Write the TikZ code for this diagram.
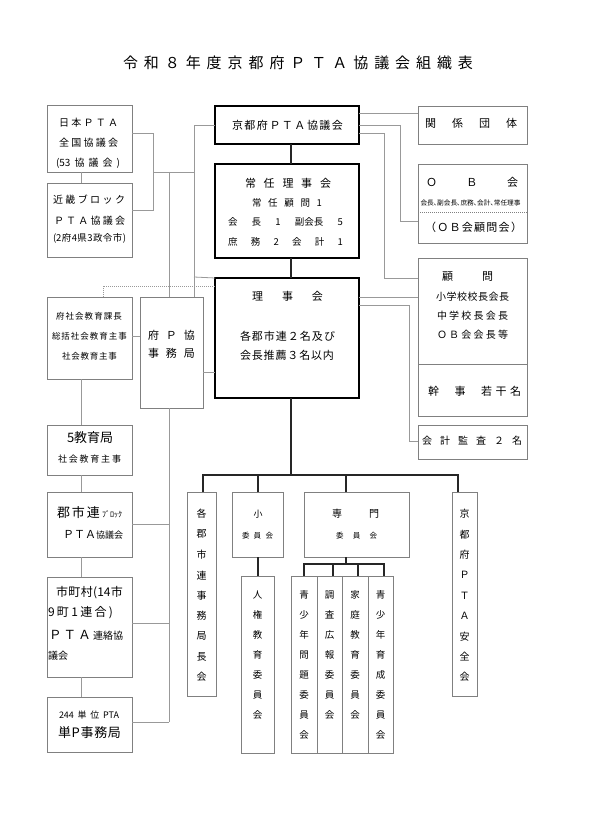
\documentclass[tikz,border=0pt]{standalone}
\usepackage{fontspec}
\setmainfont{Noto Sans CJK JP}
\usepackage{graphicx}
\usetikzlibrary{calc}
\ExplSyntaxOn
\NewDocumentCommand\spr{m m}{\hbox~to~#1{\tl_map_inline:nn{#2}{##1\hfil}\unskip}}
\ExplSyntaxOff
\definecolor{boxgray}{gray}{0.5}
\definecolor{linegray}{gray}{0.6}
\tikzset{
  gb/.style={draw=boxgray,line width=0.8pt,inner sep=0pt,outer sep=0pt},
  kb/.style={draw=black,line width=1.3pt,inner sep=0pt,outer sep=0pt},
  gl/.style={draw=linegray,line width=0.8pt},
  kl/.style={draw=black!85,line width=1.2pt},
  tx/.style={inner sep=0pt,outer sep=0pt,text=black},
}
\newcommand\mybox[6]{\node[#6,minimum width={#4-#2},minimum height={#5-#3}] (#1) at ({(#2+#4)/2},{(#3+#5)/2}) {};}
\newcommand\tline[6]{\node[tx,font=\fontsize{#5}{#5}\selectfont] (#1) at ({(#2+#3)/2},#4) {\spr{\dimexpr #3pt-#2pt\relax}{#6}};}
\newcommand\tnat[5]{\node[tx,anchor=west,font=\fontsize{#4}{#4}\selectfont] (#1) at (#2,#3) {#5};}
\newcommand\vtext[6]{\foreach \c [count=\i] in {#6} {\node[tx,font=\fontsize{#5}{#5}\selectfont] (#1-\i) at (#2,{#3+(\i-1)*#4}) {\c};}}
\begin{document}
\begin{tikzpicture}[x=1pt,y=-1pt]
\useasboundingbox (0,0) rectangle (590,834);
\fill[white] (0,0) rectangle (590,834);
% title
\tline{title}{123}{473}{63}{15}{令和８年度京都府ＰＴＡ協議会組織表}
% boxes
\mybox{nihon}{47}{105}{132}{172}{gb}
\mybox{kinki}{47}{183}{132}{257}{gb}
\mybox{kyoto}{215}{106}{359}{144}{kb}
\mybox{joning}{215}{164}{359}{258}{kb}
\mybox{riji}{215}{278}{359}{398}{kb}
\mybox{kankei}{418}{106}{527}{144}{gb}
\mybox{ob}{418}{164}{527}{243}{gb}
\mybox{komon}{418}{258}{527}{416}{gb}
\mybox{kansa}{418}{425}{527}{459}{gb}
\mybox{fushakai}{47}{297}{132}{379}{gb}
\mybox{fuP}{140}{297}{203}{408}{gb}
\mybox{kyoiku5}{47}{425}{132}{475}{gb}
\mybox{gunshi}{47}{492}{132}{557}{gb}
\mybox{shicho}{47}{577}{132}{677}{gb}
\mybox{tani}{47}{697}{132}{752}{gb}
\mybox{kakugun}{187}{492}{216}{696}{gb}
\mybox{sho}{232}{492}{283}{557}{gb}
\mybox{senmon}{304}{492}{409}{557}{gb}
\mybox{anzen}{452}{492}{477}{696}{gb}
\mybox{jinken}{241}{576}{274}{753}{gb}
\mybox{s1}{291}{576}{317}{753}{gb}
\mybox{s2}{317}{576}{342}{753}{gb}
\mybox{s3}{342}{576}{368}{753}{gb}
\mybox{s4}{368}{576}{393}{753}{gb}
% dividers
\draw[gb] (komon.west |- 0,364) -- (komon.east |- 0,364);
\draw[gb,dash pattern=on 0.8pt off 1.2pt] (ob.west |- 0,212) -- (ob.east |- 0,212);
% coordinates
\coordinate (jA) at (153,172);
\coordinate (jB) at (194,125);
\coordinate (jC) at (169,172);
\coordinate (jD) at (194,277);
\coordinate (jE) at (103,286);
\coordinate (bar) at (291,475);
\coordinate (bar2) at (346,564);
% gray connectors left
\draw[gl] (nihon.south -| 81,0) -- (kinki.north -| 81,0);
\draw[gl] (nihon.east |- 0,133) -- (153,133) -- (153,210) -- (kinki.east |- 0,210);
\draw[gl] (jA) -- (jB |- jA);
\draw[gl] (kyoto.west |- jB) -- (jB) -- (fuP.north -| jB);
\draw[gl] (jC) -- (fuP.north -| jC);
\draw[gl] (jD) -- (riji.north west);
\draw[gl,dash pattern=on 0.8pt off 1.2pt] (fushakai.north -| jE) -- (jE) -- (riji.west |- jE);
\draw[gl] (fushakai.east |- 0,336) -- (fuP.west |- 0,336);
\draw[gl] (fuP.east |- 0,372) -- (riji.west |- 0,372);
\draw[gl] (fushakai.south -| 81,0) -- (kyoiku5.north -| 81,0);
\draw[gl] (kyoiku5.south -| 81,0) -- (gunshi.north -| 81,0);
\draw[gl] (gunshi.south -| 81,0) -- (shicho.north -| 81,0);
\draw[gl] (shicho.south -| 81,0) -- (tani.north -| 81,0);
\draw[gl] (fuP.south -| jC) -- (jC |- 0,722);
\draw[gl] (gunshi.east |- 0,524) -- (jC |- 0,524);
\draw[gl] (shicho.east |- 0,623) -- (jC |- 0,623);
\draw[gl] (tani.east |- 0,722) -- (jC |- 0,722);
% gray connectors right
\draw[gl] (kyoto.east |- 0,113) -- (kankei.west |- 0,113);
\draw[gl] (kyoto.east |- 0,125) -| (400,221) -- (ob.west |- 0,221);
\draw[gl] (kyoto.east |- 0,133) -| (384,278) -- (komon.west |- 0,278);
\draw[gl] (riji.east |- 0,297) -- (komon.west |- 0,297);
\draw[gl] (riji.east |- 0,305) -| (409,441) -- (kansa.west |- 0,441);
% black connectors
\draw[kl] (kyoto.south -| bar) -- (joning.north -| bar);
\draw[kl] (joning.south -| bar) -- (riji.north -| bar);
\draw[kl] (riji.south -| bar) -- (bar);
\draw[kl] (kakugun.north -| 203,0) -- (203,475) -- (458,475) -- (anzen.north -| 458,0);
\draw[kl] (sho.north -| 258,0) -- (258,475);
\draw[kl] (senmon.north -| bar2) -- (bar2 |- bar);
\draw[kl] (sho.south -| 258,0) -- (jinken.north -| 258,0);
\draw[kl] (senmon.south -| bar2) -- (bar2);
\draw[kl] (s1.north -| 304,0) -- (304,564) -- (384,564) -- (s4.north -| 384,0);
\draw[kl] (s2.north -| 333,0) -- (333,564);
\draw[kl] (s3.north -| 358,0) -- (358,564);
% texts
\tline{n1}{59}{118}{123}{10}{日本ＰＴＡ}
\tline{n2}{59}{118}{143}{10}{全国協議会}
\tline{n3}{56}{120}{163}{10}{{(53}協議会{)}}
\tline{k1}{53}{125}{200}{10}{近畿ブロック}
\tline{k2}{54}{125}{221}{10}{ＰＴＡ協議会}
\tline{k3}{53}{126}{238}{9.5}{{(2}府{4}県{3}政令市{)}}
\tline{ky1}{232}{343}{125}{11}{京都府ＰＴＡ協議会}
\tline{ka1}{425}{517}{123}{11}{関係団体}
\tline{j1}{245}{331}{183}{11}{常任理事会}
\tline{j2}{252}{322}{203}{9.5}{常任顧問1}
\tline{j3}{228}{343}{222}{9.5}{会長1{副会長}5}
\tline{j4}{228}{343}{242}{9.5}{庶務2会計1}
\tline{r1}{252}{323}{296}{11}{理事会}
\tline{r2}{240}{335}{336}{11}{各郡市連２名及び}
\tline{r3}{240}{334}{355}{11}{会長推薦３名以内}
\tline{o1}{426}{518}{182}{11}{ＯＢ会}
\node[tx] (o2) at (470.5,203) {\resizebox{100pt}{!}{\fontsize{8.5}{8.5}\selectfont 会長､副会長､庶務､会計､常任理事}};
\tline{o3}{425}{522}{227}{11}{（ＯＢ会顧問会）}
\tline{c1}{442}{493}{277}{11}{顧問}
\tline{c2}{436}{509}{297}{10}{小学校校長会長}
\tline{c3}{437}{508}{316}{10}{中学校長会長}
\tline{c4}{437}{508}{335}{10}{ＯＢ会会長等}
\tline{c5}{428}{521}{391}{11}{幹事{\spr{40pt}{若干名}}}
\tline{a1}{422}{522}{441}{10}{会計監査２名}
\tline{f1}{56}{122}{316}{8.5}{府社会教育課長}
\tline{f2}{52}{127}{336}{8.5}{総括社会教育主事}
\tline{f3}{62}{117}{356}{8.5}{社会教育主事}
\tline{p1}{148}{195}{335}{11}{府Ｐ協}
\tline{p2}{148}{195}{353}{11}{事務局}
\tline{e1}{67}{113}{438}{13}{5教育局}
\tline{e2}{58}{121}{459}{9}{社会教育主事}
\tline{g1}{57}{122}{513}{13}{郡市連{\fontsize{8}{8}\selectfont ﾌﾞﾛｯｸ}}
\tline{g2}{63}{117}{535}{11}{ＰＴＡ{\fontsize{9}{9}\selectfont 協議会}}
\tline{m1}{56}{123}{593}{12}{市町村{(14}市}
\tline{m2}{48}{113}{613}{12}{9町{1}連合{)}}
\tline{m3}{49}{123}{635}{12.5}{ＰＴＡ{\fontsize{10}{10}\selectfont 連絡協}}
\tnat{m4}{48}{656}{10}{議会}
\tline{u1}{59}{119}{715}{9}{{244}単位{PTA}}
\tline{u2}{58}{121}{733}{13}{単P事務局}
% vertical texts
\vtext{vk}{201.5}{514}{20.4}{10}{各,郡,市,連,事,務,局,長,会}
\vtext{va}{464.5}{514}{20.4}{10}{京,都,府,Ｐ,Ｔ,Ａ,安,全,会}
\node[tx,font=\fontsize{9}{9}\selectfont] (sh1) at (258,514) {小};
\tline{sh2}{242}{273}{536}{7.5}{委員会}
\tline{se1}{332}{379}{514}{10}{専門}
\tline{se2}{336}{377}{536}{7.5}{委員会}
\vtext{vj}{257.5}{595}{20}{9.5}{人,権,教,育,委,員,会}
\vtext{v1}{304}{595}{20}{9.5}{青,少,年,問,題,委,員,会}
\vtext{v2}{329.5}{595}{20}{9.5}{調,査,広,報,委,員,会}
\vtext{v3}{355}{595}{20}{9.5}{家,庭,教,育,委,員,会}
\vtext{v4}{380.5}{595}{20}{9.5}{青,少,年,育,成,委,員,会}
\end{tikzpicture}
\end{document}
